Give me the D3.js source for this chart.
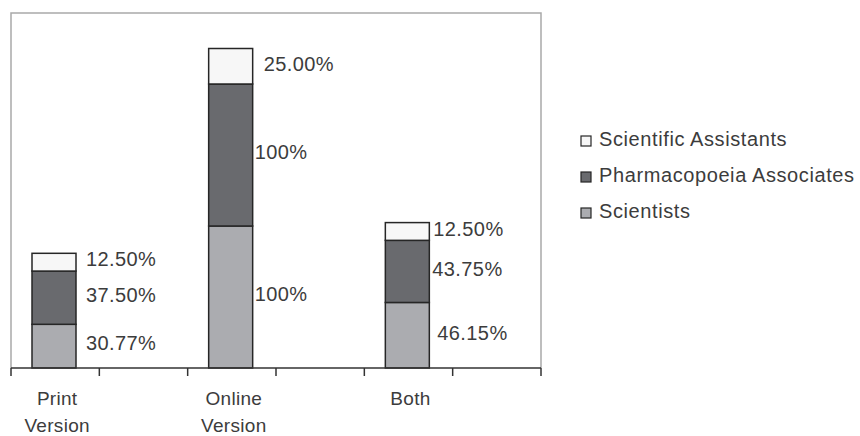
<!DOCTYPE html>
<html>
<head>
<meta charset="utf-8">
<script src="https://cdn.jsdelivr.net/npm/d3@7"></script>
<style>
  html, body { margin: 0; padding: 0; background: #ffffff; }
  svg { display: block; font-family: "Liberation Sans", Arial, sans-serif; }
</style>
</head>
<body>
<svg id="chart" width="860" height="436"></svg>
<script>
// Categories (x axis), one line per array entry
const categories = ["Print Version", "Online Version", "Both"];
const categoryLines = [["Print", "Version"], ["Online", "Version"], ["Both"]];

// Series, stacked bottom to top
const seriesNames = ["Scientists", "Pharmacopoeia Associates", "Scientific Assistants"];
const scientists = [30.77, 100, 46.15];
const pharmacopoeiaAssociates = [37.50, 100, 43.75];
const scientificAssistants = [12.50, 25.00, 12.50];

// Value labels as printed next to each segment
const scientistsLabels = ["30.77%", "100%", "46.15%"];
const associatesLabels = ["37.50%", "100%", "43.75%"];
const assistantsLabels = ["12.50%", "25.00%", "12.50%"];

// Value axis range
const valueDomain = [0, 250];

const seriesValues = [scientists, pharmacopoeiaAssociates, scientificAssistants];
const seriesLabels = [scientistsLabels, associatesLabels, assistantsLabels];
const fills = ["#abacb0", "#696a6e", "#f7f7f7"];

const svg = d3.select("#chart");
const plot = { left: 11, right: 541, top: 13, bottom: 368 };

const x = d3.scaleBand().domain(categories).range([plot.left, plot.right]).padding(0);
const y = d3.scaleLinear().domain(valueDomain).range([plot.bottom, plot.top]);

const barOffset = 21, barWidth = 44;

// Plot frame
svg.append("path")
  .attr("d", `M${plot.left},${plot.bottom} V${plot.top} H${plot.right} V${plot.bottom}`)
  .attr("fill", "none")
  .attr("stroke", "#a9a9a9")
  .attr("stroke-width", 1.5);

// Stack data
const rows = categories.map((c, i) => {
  const r = { category: c };
  seriesNames.forEach((s, k) => { r[s] = seriesValues[k][i]; });
  return r;
});
const stacked = d3.stack().keys(seriesNames)(rows);

// Label horizontal nudges from the bar's right edge, per series and category
const labelDx = [[10, 2, 8], [10, 2, 3], [10, 11, 4]];

stacked.forEach((layer, k) => {
  const g = svg.append("g");
  g.selectAll("rect")
    .data(layer)
    .join("rect")
    .attr("x", d => x(d.data.category) + barOffset)
    .attr("y", d => y(d[1]))
    .attr("width", barWidth)
    .attr("height", d => y(d[0]) - y(d[1]))
    .attr("fill", fills[k])
    .attr("stroke", "#262626")
    .attr("stroke-width", 1.5);

  g.selectAll("text")
    .data(layer)
    .join("text")
    .attr("x", (d, i) => x(d.data.category) + barOffset + barWidth + labelDx[k][i])
    .attr("y", d => (y(d[0]) + y(d[1])) / 2 - 1)
    .attr("dominant-baseline", "middle")
    .attr("font-size", 20)
    .attr("letter-spacing", 0.4)
    .attr("fill", "#3c3c3c")
    .text((d, i) => seriesLabels[k][i]);
});

// Category axis: baseline with ticks at band edges and band midpoints
const axisY = plot.bottom;
svg.append("line")
  .attr("x1", plot.left).attr("x2", plot.right)
  .attr("y1", axisY).attr("y2", axisY)
  .attr("stroke", "#333333").attr("stroke-width", 1.5);

const tickXs = [];
categories.forEach(c => {
  tickXs.push(x(c));
  tickXs.push(x(c) + x.bandwidth() / 2);
});
tickXs.push(plot.right);
svg.selectAll(".tick")
  .data(tickXs)
  .join("line")
  .attr("class", "tick")
  .attr("x1", d => d).attr("x2", d => d)
  .attr("y1", axisY).attr("y2", axisY + 8)
  .attr("stroke", "#333333").attr("stroke-width", 1.5);

// Category labels, centred in the first half of each band
const catLabels = svg.selectAll(".cat")
  .data(categories)
  .join("text")
  .attr("class", "cat")
  .attr("text-anchor", "middle")
  .attr("font-size", 19)
  .attr("letter-spacing", 0.3)
  .attr("fill", "#3c3c3c");
catLabels.each(function (c, i) {
  const t = d3.select(this);
  categoryLines[i].forEach((line, j) => {
    t.append("tspan")
      .attr("x", x(c) + x.bandwidth() / 4 + 2)
      .attr("y", 405 + j * 27)
      .text(line);
  });
});

// Legend (top series first)
const legendOrder = [2, 1, 0];
const legend = svg.append("g");
legendOrder.forEach((k, row) => {
  const cy = 141 + row * 36;
  legend.append("rect")
    .attr("x", 581).attr("y", cy - 5)
    .attr("width", 10).attr("height", 10)
    .attr("fill", fills[k])
    .attr("stroke", "#262626").attr("stroke-width", 1.2);
  legend.append("text")
    .attr("x", 599).attr("y", cy)
    .attr("dominant-baseline", "middle")
    .attr("font-size", 20)
    .attr("letter-spacing", 0.6)
    .attr("fill", "#3c3c3c")
    .text(seriesNames[k]);
});
</script>
</body>
</html>
